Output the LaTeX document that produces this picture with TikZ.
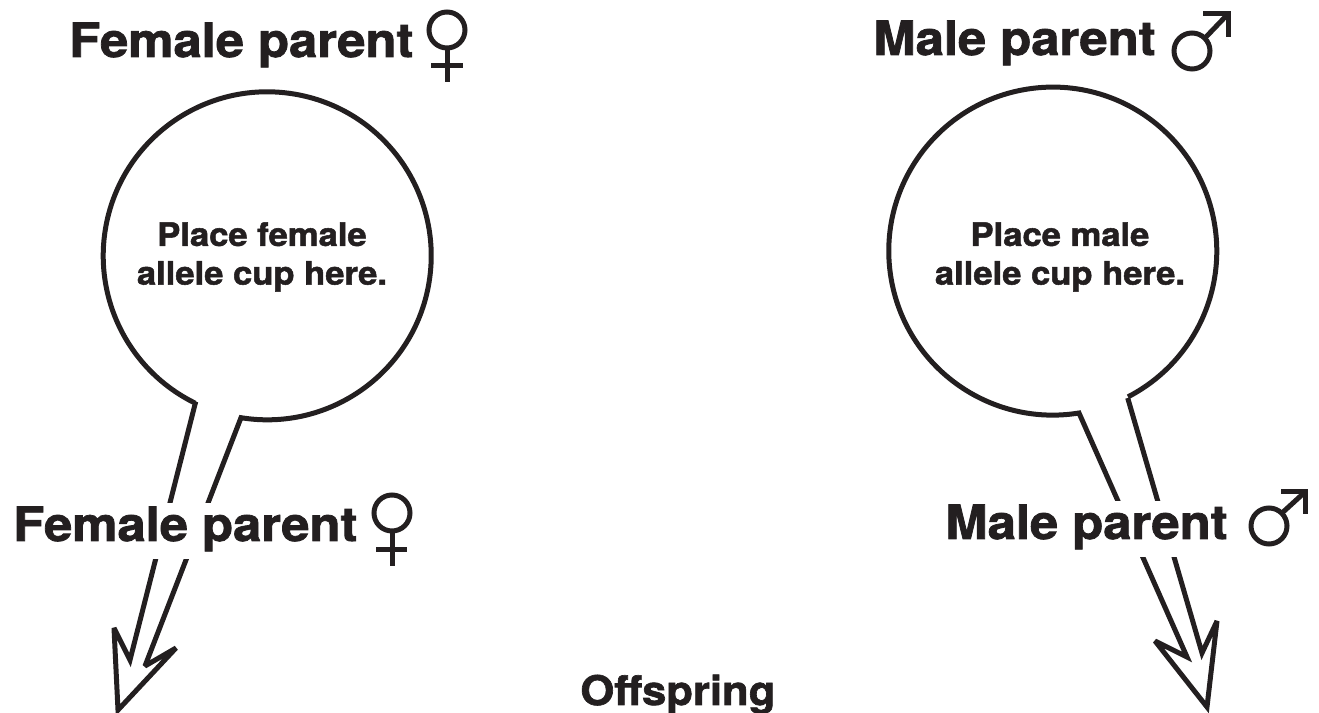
\documentclass[tikz,border=0pt]{standalone}
\usepackage{fontspec}
\setmainfont{TeX Gyre Heros}[BoldFeatures={FakeBold=1.6,FakeStretch=1.07}]
\definecolor{ink}{HTML}{231F20}
\tikzset{
  outline/.style={draw=ink,line width=.1cm,line join=miter,miter limit=3},
  symline/.style={draw=ink,line width=.1cm},
  parentlabel/.style={anchor=base west,inner sep=0pt,text=ink,fill=white,font=\bfseries\fontsize{27}{27}\selectfont,text height=21.6pt,text depth=10.2pt},
  toplabel/.style={anchor=base west,inner sep=0pt,text=ink,font=\bfseries\fontsize{27}{27}\selectfont},
  cuplabel/.style={align=center,text=ink,font=\bfseries\fontsize{18.4}{22}\selectfont},
  offlabel/.style={anchor=base west,inner sep=0pt,text=ink,font=\bfseries\fontsize{23.2}{23.2}\selectfont}
}
\begin{document}
\begin{tikzpicture}[x=.02cm,y=.02cm]
  \useasboundingbox (0,0) rectangle (1319,713);
  % female side
  \coordinate (femaleIn) at (241,295.3);
  \coordinate (femaleOut) at (195.7,311.3);
  \draw[outline] (femaleOut) -- (130,53) -- (114,85) -- (118,3) -- (176,65) -- (145,47) -- (femaleIn)
    arc (260.8:604:164);
  % male side
  \coordinate (maleIn) at (1079,300);
  \coordinate (maleOut) at (1127.7,315);
  \draw[outline] (maleOut) -- (1202,60) -- (1217,92) -- (1207,6) -- (1155,72) -- (1187,56) -- (maleIn)
    arc (-80.8:-422.7:164);
  % labels
  \node[toplabel] (femaleTop) at (69,656) {Female parent};
  \node[toplabel] (maleTop) at (873,658) {Male parent};
  \node[parentlabel] (femaleLow) at (13,172) {Female parent};
  \node[parentlabel] (maleLow) at (945,174) {Male parent};
  \node[cuplabel] (femaleText) at (262,456) {Place female\\allele cup here.};
  \node[cuplabel] (maleText) at (1060,456) {Place male\\allele cup here.};
  \node[offlabel] (offspring) at (580,8) {Offspring};
  % symbols
  \draw[symline] (447,683) circle (18);
  \draw[symline] (447,665) -- (447,631);
  \draw[symline] (431,647) -- (463,647);
  \draw[symline] (392,200) circle (18);
  \draw[symline] (392,182) -- (392,147);
  \draw[symline] (376,163) -- (407,163);
  \draw[symline] (1192,662) circle (18);
  \draw[symline] (1205,675) -- (1228,699);
  \draw[symline] (1203,699) -- (1228,699) -- (1228,676);
  \draw[symline] (1269,187) circle (18);
  \draw[symline] (1282,200) -- (1305,221);
  \draw[symline] (1281,221) -- (1305,221) -- (1305,199);
\end{tikzpicture}
\end{document}
